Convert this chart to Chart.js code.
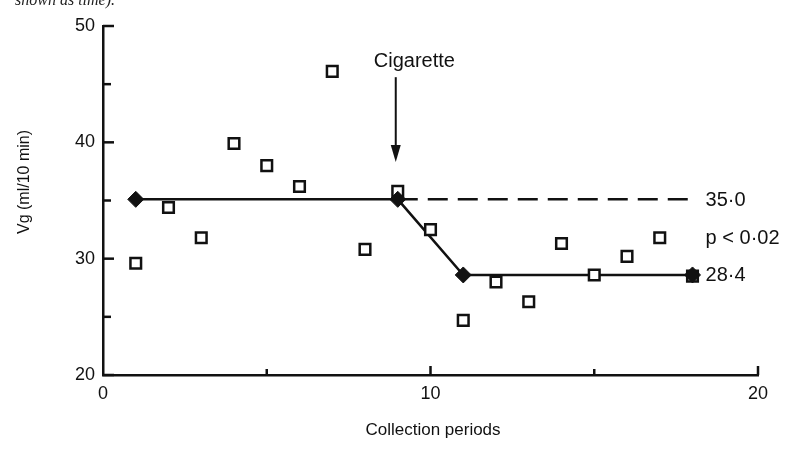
<!DOCTYPE html>
<html>
<head>
<meta charset="utf-8">
<script src="https://cdn.jsdelivr.net/npm/chart.js@4.4.0/dist/chart.umd.min.js"></script>
<style>
  html, body { margin: 0; padding: 0; background: #fff; }
  #wrap { position: relative; width: 789px; height: 450px; overflow: hidden; }
  #caption { position: absolute; left: 15px; top: -9px; font: italic 16px "Liberation Serif", serif; color: #222; }
  canvas { display: block; }
</style>
</head>
<body>
<div id="wrap">
  <div id="caption">shown as time).</div>
  <canvas id="vgChart" width="789" height="450"></canvas>
</div>
<script>
// collection period readings (open squares)
const periods = [1, 2, 3, 4, 5, 6, 7, 8, 9, 10, 11, 12, 13, 14, 15, 16, 17, 18];
const vgValues = [29.6, 34.4, 31.8, 39.9, 38.0, 36.2, 46.1, 30.8, 35.8, 32.5, 24.7, 28.0, 26.3, 31.3, 28.6, 30.2, 31.8, 28.5];

// fitted line (filled diamonds)
const fitPeriods = [1, 9, 11, 18];
const fitValues = [35.1, 35.1, 28.6, 28.6];

// dashed continuation of the pre-cigarette level
const basePeriods = [9, 18];
const baseValues = [35.1, 35.1];

// tick labels shown
const xLabelled = [0, 10, 20];
const yLabelled = [20, 30, 40, 50];

// side annotations
const noteTexts = ['35·0', 'p < 0·02', '28·4'];
const noteValues = [35.1, 31.8, 28.6];
const notePeriod = 18.4;

// cigarette arrow
const arrowPeriod = 9;
const arrowFrom = 45.6;
const arrowTo = 38.3;

const ink = '#111';
const fontName = '"Liberation Sans", Arial, sans-serif';

function toPoints(xs, ys) {
    return xs.map((v, i) => ({ x: v, y: ys[i] }));
}

// draws inward ticks, arrow, notes and axis titles
const decorations = {
    id: 'decorations',
    afterDatasetsDraw(chart) {
        const ctx = chart.ctx;
        const x = chart.scales.x;
        const y = chart.scales.y;
        const area = chart.chartArea;
        ctx.save();
        ctx.strokeStyle = ink;
        ctx.fillStyle = ink;
        ctx.lineWidth = 2.5;

        y.ticks.forEach(t => {
            const py = y.getPixelForValue(t.value);
            const len = t.value % 10 === 0 ? 11 : 8;
            ctx.beginPath();
            ctx.moveTo(area.left, py);
            ctx.lineTo(area.left + len, py);
            ctx.stroke();
        });
        x.ticks.forEach(t => {
            if (t.value === 0) return;
            const px = x.getPixelForValue(t.value);
            const len = t.value % 10 === 0 ? 9 : 6;
            ctx.beginPath();
            ctx.moveTo(px, area.bottom);
            ctx.lineTo(px, area.bottom - len);
            ctx.stroke();
        });

        // arrow
        const ax = x.getPixelForValue(arrowPeriod) - 2;
        const ay1 = y.getPixelForValue(arrowFrom);
        const ay2 = y.getPixelForValue(arrowTo);
        ctx.lineWidth = 2;
        ctx.beginPath();
        ctx.moveTo(ax, ay1);
        ctx.lineTo(ax, ay2 - 12);
        ctx.stroke();
        ctx.beginPath();
        ctx.moveTo(ax - 5, ay2 - 17);
        ctx.lineTo(ax + 5, ay2 - 17);
        ctx.lineTo(ax, ay2);
        ctx.closePath();
        ctx.fill();

        ctx.font = '20px ' + fontName;
        ctx.textAlign = 'left';
        ctx.textBaseline = 'alphabetic';
        ctx.fillText('Cigarette', ax - 22, ay1 - 10);

        ctx.textBaseline = 'middle';
        noteTexts.forEach((txt, i) => {
            ctx.fillText(txt, x.getPixelForValue(notePeriod), y.getPixelForValue(noteValues[i]) + 1);
        });

        // axis titles
        ctx.font = '17px ' + fontName;
        ctx.textAlign = 'center';
        ctx.fillText('Collection periods', 433, 430);
        ctx.save();
        ctx.translate(25, 182);
        ctx.rotate(-Math.PI / 2);
        ctx.font = '16px ' + fontName;
        ctx.fillText('Vg (ml/10 min)', 0, 0);
        ctx.restore();

        ctx.restore();
    }
};

const ctx = document.getElementById('vgChart').getContext('2d');
const vgChart = new Chart(ctx, {
    type: 'scatter',
    data: {
        datasets: [
            {
                // diamonds on top
                label: 'fit points',
                data: toPoints(fitPeriods, fitValues),
                showLine: false,
                pointStyle: 'rectRot',
                pointRadius: 8,
                backgroundColor: ink,
                borderColor: ink,
                borderWidth: 1,
                order: 1
            },
            {
                label: 'Vg',
                data: toPoints(periods, vgValues),
                showLine: false,
                pointStyle: 'rect',
                pointRadius: 7.5,
                backgroundColor: '#fff',
                borderColor: ink,
                borderWidth: 2.5,
                order: 2
            },
            {
                label: 'fit line',
                data: toPoints(fitPeriods, fitValues),
                showLine: true,
                pointRadius: 0,
                borderColor: ink,
                borderWidth: 2.5,
                order: 3
            },
            {
                label: 'baseline',
                data: toPoints(basePeriods, baseValues),
                showLine: true,
                pointRadius: 0,
                borderColor: ink,
                borderWidth: 2.5,
                borderDash: [20, 10],
                order: 4
            }
        ]
    },
    options: {
        responsive: false,
        animation: false,
        layout: { padding: { top: 26, right: 31, left: 0, bottom: 0 } },
        plugins: {
            legend: { display: false },
            tooltip: { enabled: false }
        },
        scales: {
            x: {
                type: 'linear',
                min: 0,
                max: 20,
                afterFit: scale => { scale.height = 75; },
                grid: { display: false },
                border: { display: true, color: ink, width: 2.5 },
                ticks: {
                    stepSize: 5,
                    autoSkip: false,
                    maxRotation: 0,
                    padding: 0,
                    color: ink,
                    font: { family: fontName, size: 18 },
                    callback: v => xLabelled.includes(v) ? String(v) : ''
                }
            },
            y: {
                type: 'linear',
                min: 20,
                max: 50,
                afterFit: scale => { scale.width = 103; },
                grid: { display: false },
                border: { display: true, color: ink, width: 2.5 },
                ticks: {
                    stepSize: 5,
                    autoSkip: false,
                    padding: 0,
                    color: ink,
                    font: { family: fontName, size: 18 },
                    callback: v => yLabelled.includes(v) ? String(v) : ''
                }
            }
        }
    },
    plugins: [decorations]
});
</script>
</body>
</html>
